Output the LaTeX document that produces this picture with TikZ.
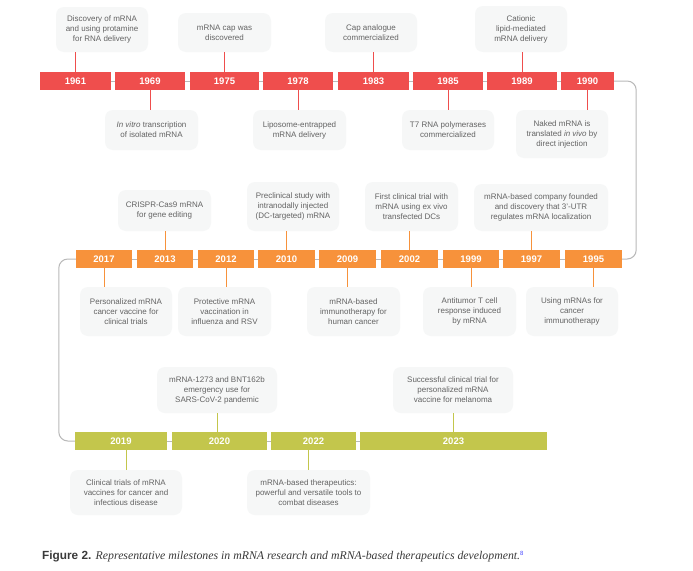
\documentclass[tikz,border=0pt]{standalone}
\usepackage{fontspec}
\setmainfont{Liberation Sans}
\newfontfamily\capserif{Liberation Serif}
\usetikzlibrary{positioning}

\definecolor{mred}{HTML}{EF4E4D}
\definecolor{morange}{HTML}{F7923B}
\definecolor{mgreen}{HTML}{C3C64C}
\definecolor{boxgray}{HTML}{F6F7F7}
\definecolor{txtgray}{HTML}{636363}
\definecolor{linegray}{HTML}{B9B9B9}
\definecolor{capgray}{HTML}{3A3A3A}

\tikzset{
  year/.style={fill=#1, text=white, font=\fontsize{9.5}{11}\selectfont\bfseries,
    minimum height=18pt, inner sep=0pt},
  callout/.style={fill=boxgray, rounded corners=8pt, text=txtgray,
    font=\fontsize{8}{10}\selectfont, align=center, inner sep=0pt},
  tick/.style={draw=#1, line width=1pt},
  spine/.style={draw=linegray, line width=1pt},
}

\begin{document}
\begin{tikzpicture}[x=1pt,y=-1pt]
\useasboundingbox[fill=white] (0,0) rectangle (693,570);

% first row (red)
\node[year=mred, minimum width=71pt] (y1961) at (75.5,81) {1961};
\node[year=mred, minimum width=70pt] (y1969) at (150,81) {1969};
\node[year=mred, minimum width=69pt] (y1975) at (224.5,81) {1975};
\node[year=mred, minimum width=70pt] (y1978) at (298,81) {1978};
\node[year=mred, minimum width=71pt] (y1983) at (373.5,81) {1983};
\node[year=mred, minimum width=70pt] (y1985) at (448,81) {1985};
\node[year=mred, minimum width=70pt] (y1989) at (522,81) {1989};
\node[year=mred, minimum width=53pt] (y1990) at (587.5,81) {1990};

\node[callout, minimum width=92pt, minimum height=45pt] (c1961) at (102,29.5) {Discovery of mRNA\\and using protamine\\for RNA delivery};
\node[callout, minimum width=93pt, minimum height=40pt] (c1969) at (151.5,130) {\textit{In vitro} transcription\\of isolated mRNA};
\node[callout, minimum width=93pt, minimum height=39pt] (c1975) at (224.5,32.5) {mRNA cap was\\discovered};
\node[callout, minimum width=93pt, minimum height=40pt] (c1978) at (299.5,130) {Liposome-entrapped\\mRNA delivery};
\node[callout, minimum width=92pt, minimum height=39pt] (c1983) at (371,32.5) {Cap analogue\\commercialized};
\node[callout, minimum width=92pt, minimum height=40pt] (c1985) at (448,130) {T7 RNA polymerases\\commercialized};
\node[callout, minimum width=92pt, minimum height=46pt] (c1989) at (521,29) {Cationic\\lipid-mediated\\mRNA delivery};
\node[callout, minimum width=92pt, minimum height=48pt] (c1990) at (562,134) {Naked mRNA is\\translated \textit{in vivo} by\\direct injection};

% second row (orange)
\node[year=morange, minimum width=56pt] (y2017) at (104,259) {2017};
\node[year=morange, minimum width=56pt] (y2013) at (165,259) {2013};
\node[year=morange, minimum width=56pt] (y2012) at (226,259) {2012};
\node[year=morange, minimum width=57pt] (y2010) at (286.5,259) {2010};
\node[year=morange, minimum width=57pt] (y2009) at (347.5,259) {2009};
\node[year=morange, minimum width=57pt] (y2002) at (409.5,259) {2002};
\node[year=morange, minimum width=56pt] (y1999) at (471,259) {1999};
\node[year=morange, minimum width=57pt] (y1997) at (531.5,259) {1997};
\node[year=morange, minimum width=57pt] (y1995) at (593.5,259) {1995};

\node[callout, minimum width=92pt, minimum height=49pt] (c2017) at (126,311.5) {Personalized mRNA\\cancer vaccine for\\clinical trials};
\node[callout, minimum width=93pt, minimum height=41pt] (c2013) at (164.5,210.5) {CRISPR-Cas9 mRNA\\for gene editing};
\node[callout, minimum width=93pt, minimum height=49pt] (c2012) at (224.5,311.5) {Protective mRNA\\vaccination in\\influenza and RSV};
\node[callout, minimum width=92pt, minimum height=49pt] (c2010) at (293,206.5) {Preclinical study with\\intranodally injected\\(DC-targeted) mRNA};
\node[callout, minimum width=93pt, minimum height=49pt] (c2009) at (353.5,311.5) {mRNA-based\\immunotherapy for\\human cancer};
\node[callout, minimum width=93pt, minimum height=49pt] (c2002) at (411.5,206.5) {First clinical trial with\\mRNA using ex vivo\\transfected DCs};
\node[callout, minimum width=93pt, minimum height=49pt] (c1999) at (469.5,311.5) {Antitumor T cell\\response induced\\by mRNA};
\node[callout, minimum width=134pt, minimum height=47pt] (c1997) at (541,207.5) {mRNA-based company founded\\and discovery that 3'-UTR\\regulates mRNA localization};
\node[callout, minimum width=92pt, minimum height=49pt] (c1995) at (572,311.5) {Using mRNAs for\\cancer\\immunotherapy};

% third row (green)
\node[year=mgreen, minimum width=92pt] (y2019) at (121,441) {2019};
\node[year=mgreen, minimum width=95pt] (y2020) at (219.5,441) {2020};
\node[year=mgreen, minimum width=85pt] (y2022) at (313.5,441) {2022};
\node[year=mgreen, minimum width=187pt] (y2023) at (453.5,441) {2023};

\node[callout, minimum width=112pt, minimum height=45pt] (c2019) at (126,492.5) {Clinical trials of mRNA\\vaccines for cancer and\\infectious disease};
\node[callout, minimum width=120pt, minimum height=46pt] (c2020) at (217,390) {mRNA-1273 and BNT162b\\emergency use for\\SARS-CoV-2 pandemic};
\node[callout, minimum width=123pt, minimum height=45pt] (c2022) at (308.5,492.5) {mRNA-based therapeutics:\\powerful and versatile tools to\\combat diseases};
\node[callout, minimum width=120pt, minimum height=46pt] (c2023) at (453,390) {Successful clinical trial for\\personalized mRNA\\vaccine for melanoma};

% timeline
\draw[spine] (y1961) -- (y1969);
\draw[spine] (y1969) -- (y1975);
\draw[spine] (y1975) -- (y1978);
\draw[spine] (y1978) -- (y1983);
\draw[spine] (y1983) -- (y1985);
\draw[spine] (y1985) -- (y1989);
\draw[spine] (y1989) -- (y1990);
\draw[spine, rounded corners=9pt] (y1990.east) -- ++(22,0) |- (y1995.east);
\draw[spine] (y1995) -- (y1997);
\draw[spine] (y1997) -- (y1999);
\draw[spine] (y1999) -- (y2002);
\draw[spine] (y2002) -- (y2009);
\draw[spine] (y2009) -- (y2010);
\draw[spine] (y2010) -- (y2012);
\draw[spine] (y2012) -- (y2013);
\draw[spine] (y2013) -- (y2017);
\draw[spine, rounded corners=9pt] (y2017.west) -- ++(-17,0) |- (y2019.west);
\draw[spine] (y2019) -- (y2020);
\draw[spine] (y2020) -- (y2022);
\draw[spine] (y2022) -- (y2023);

% ticks
\draw[tick=mred] (y1961.north) -- (y1961.north |- c1961.south);
\draw[tick=mred] (y1969.south) -- (y1969.south |- c1969.north);
\draw[tick=mred] (y1975.north) -- (y1975.north |- c1975.south);
\draw[tick=mred] (y1978.south) -- (y1978.south |- c1978.north);
\draw[tick=mred] (y1983.north) -- (y1983.north |- c1983.south);
\draw[tick=mred] (y1985.south) -- (y1985.south |- c1985.north);
\draw[tick=mred] (y1989.north) -- (y1989.north |- c1989.south);
\draw[tick=mred] (y1990.south) -- (y1990.south |- c1990.north);
\draw[tick=morange] (y2017.south) -- (y2017.south |- c2017.north);
\draw[tick=morange] (y2013.north) -- (y2013.north |- c2013.south);
\draw[tick=morange] (y2012.south) -- (y2012.south |- c2012.north);
\draw[tick=morange] (y2010.north) -- (y2010.north |- c2010.south);
\draw[tick=morange] (y2009.south) -- (y2009.south |- c2009.north);
\draw[tick=morange] (y2002.north) -- (y2002.north |- c2002.south);
\draw[tick=morange] (y1999.south) -- (y1999.south |- c1999.north);
\draw[tick=morange] (y1997.north) -- (y1997.north |- c1997.south);
\draw[tick=morange] (y1995.south) -- (y1995.south |- c1995.north);
\draw[tick=mgreen] (c2019.north) -- (c2019.north |- y2019.south);
\draw[tick=mgreen] (c2020.south) -- (c2020.south |- y2020.north);
\draw[tick=mgreen] (c2022.north) -- (c2022.north |- y2022.south);
\draw[tick=mgreen] (c2023.south) -- (c2023.south |- y2023.north);

% caption
\node[anchor=base west, inner sep=0pt, text=capgray, font=\fontsize{11.8}{13}\selectfont] (cap) at (42,559)
  {{\bfseries Figure 2.} {\capserif\itshape Representative milestones in mRNA research and mRNA-based therapeutics development.}{\fontsize{6}{6}\selectfont\raisebox{4pt}{\color{blue!70}8}}};

\end{tikzpicture}
\end{document}
